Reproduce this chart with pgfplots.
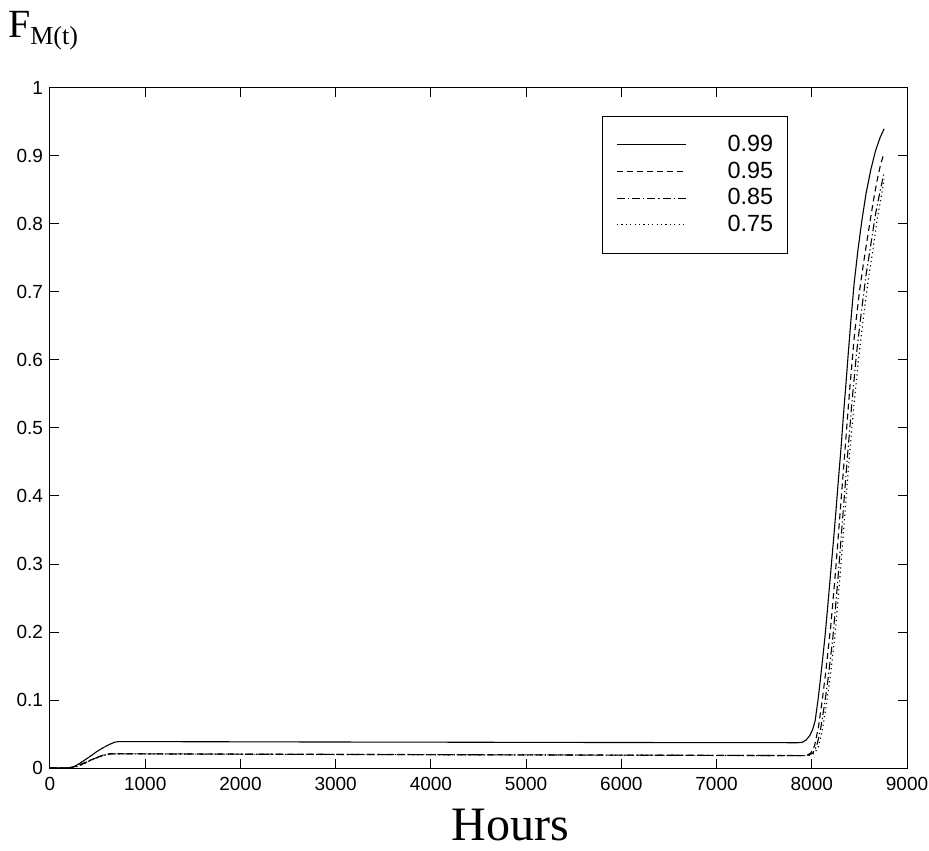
\documentclass[border=0pt]{standalone}
\usepackage{fontspec}
\setmainfont{Liberation Serif}
\newfontfamily\arial{Liberation Sans}
\usepackage{pgfplots}
\pgfplotsset{compat=1.18}

\pgfplotstableread{
t F
0 0
190 0
250 0.002
315 0.007
400 0.015
490 0.024
560 0.030
630 0.035
680 0.038
720 0.0388
1000 0.0388
2000 0.0385
3000 0.0382
4000 0.0380
5000 0.0377
6000 0.0375
7000 0.0373
7850 0.0372
7900 0.0378
7940 0.041
7980 0.048
8010 0.057
8036 0.070
8070 0.105
8106 0.150
8140 0.195
8169 0.240
8200 0.290
8228 0.335
8255 0.380
8280 0.425
8307 0.470
8333 0.520
8360 0.567
8386 0.615
8415 0.665
8445 0.713
8485 0.762
8526 0.805
8570 0.845
8620 0.880
8670 0.908
8720 0.928
8760 0.940
}\tabA

\pgfplotstableread{
t F
0 0
190 0
250 0.0015
315 0.005
400 0.010
490 0.0155
560 0.019
630 0.021
700 0.021
2000 0.0205
4000 0.0197
6000 0.0190
7900 0.0183
7950 0.019
7990 0.022
8030 0.033
8070 0.060
8110 0.100
8150 0.145
8200 0.210
8250 0.290
8300 0.380
8350 0.470
8400 0.560
8450 0.640
8500 0.700
8543 0.742
8596 0.790
8648 0.835
8683 0.862
8720 0.886
8760 0.905
}\tabB

\pgfplotstableread{
t F
0 0
200 0
260 0.0015
330 0.005
410 0.0105
500 0.0158
570 0.019
640 0.0208
700 0.0209
2000 0.0203
4000 0.0196
6000 0.0189
7920 0.0182
7970 0.019
8010 0.022
8050 0.032
8090 0.055
8130 0.090
8170 0.130
8220 0.190
8270 0.270
8320 0.360
8370 0.450
8420 0.535
8470 0.610
8520 0.670
8570 0.725
8620 0.770
8670 0.815
8720 0.850
8760 0.876
}\tabC

\pgfplotstableread{
t F
0 0
210 0
270 0.0015
340 0.005
420 0.0105
510 0.0158
580 0.019
650 0.0207
700 0.0208
2000 0.0202
4000 0.0195
6000 0.0188
7940 0.0181
7990 0.019
8030 0.022
8070 0.032
8110 0.055
8150 0.090
8190 0.130
8240 0.190
8290 0.270
8340 0.360
8390 0.450
8440 0.530
8490 0.600
8540 0.660
8590 0.715
8640 0.760
8690 0.810
8730 0.840
8760 0.866
}\tabD

\begin{document}
\begin{tikzpicture}
\begin{axis}[
  at={(0,0)}, anchor=south west,
  scale only axis, width=428.5pt, height=340pt,
  xmin=0, xmax=9000, ymin=0, ymax=1,
  xtick={0,1000,2000,3000,4000,5000,6000,7000,8000,9000},
  ytick={0,0.1,0.2,0.3,0.4,0.5,0.6,0.7,0.8,0.9,1},
  yticklabels={0,0.1,0.2,0.3,0.4,0.5,0.6,0.7,0.8,0.9,1},
  scaled x ticks=false,
  /pgf/number format/1000 sep={},
  /pgf/number format/assume math mode=true,
  tick align=inside, major tick length=4.5pt,
  axis line style={line width=0.5pt},
  every tick/.style={black, line width=0.5pt},
  tick label style={font=\arial\fontsize{9.5}{10}\selectfont},
  xticklabel style={yshift=-1.3pt},
  xlabel={Hours},
  xlabel style={font=\fontsize{24}{26}\selectfont, at={(axis description cs:0.537,0)}, anchor=base, yshift=-36pt},
  ylabel={{\fontsize{20}{22}\selectfont F}\raisebox{-3.5pt}{\fontsize{13}{14}\selectfont M(t)}},
  ylabel style={rotate=-90, at={(axis description cs:0,1)}, anchor=base west, xshift=-24.5pt, yshift=25pt},
  legend image code/.code={\draw[#1] (1.5pt,0pt) -- (35.8pt,0pt);},
  legend style={draw=black, line width=0.5pt, at={(0.6441,0.9588)}, anchor=north west,
    inner xsep=7pt, inner ysep=7.5pt, row sep=0pt,
    font=\arial\fontsize{11.7}{13}\selectfont,
    nodes={inner sep=0pt, minimum height=13.33pt},
    /tikz/every odd column/.append style={column sep=20.7pt}},
  legend cell align=right,
]
\addplot[black, line width=0.55pt] table[x=t,y=F] {\tabA};
\addlegendentry{0.99}
\addplot[black, line width=0.55pt, dash pattern=on 3pt off 2pt] table[x=t,y=F] {\tabB};
\addlegendentry{0.95}
\addplot[black, line width=0.55pt, dash pattern=on 4pt off 1.5pt on 0.6pt off 1.5pt] table[x=t,y=F] {\tabC};
\addlegendentry{0.85}
\addplot[black, line width=0.55pt, dash pattern=on 0.6pt off 1.6pt] table[x=t,y=F] {\tabD};
\addlegendentry{0.75}
\end{axis}
\pgfresetboundingbox
\path[use as bounding box] (-25pt,-41pt) rectangle (439.5pt,384pt);
\end{tikzpicture}
\end{document}
